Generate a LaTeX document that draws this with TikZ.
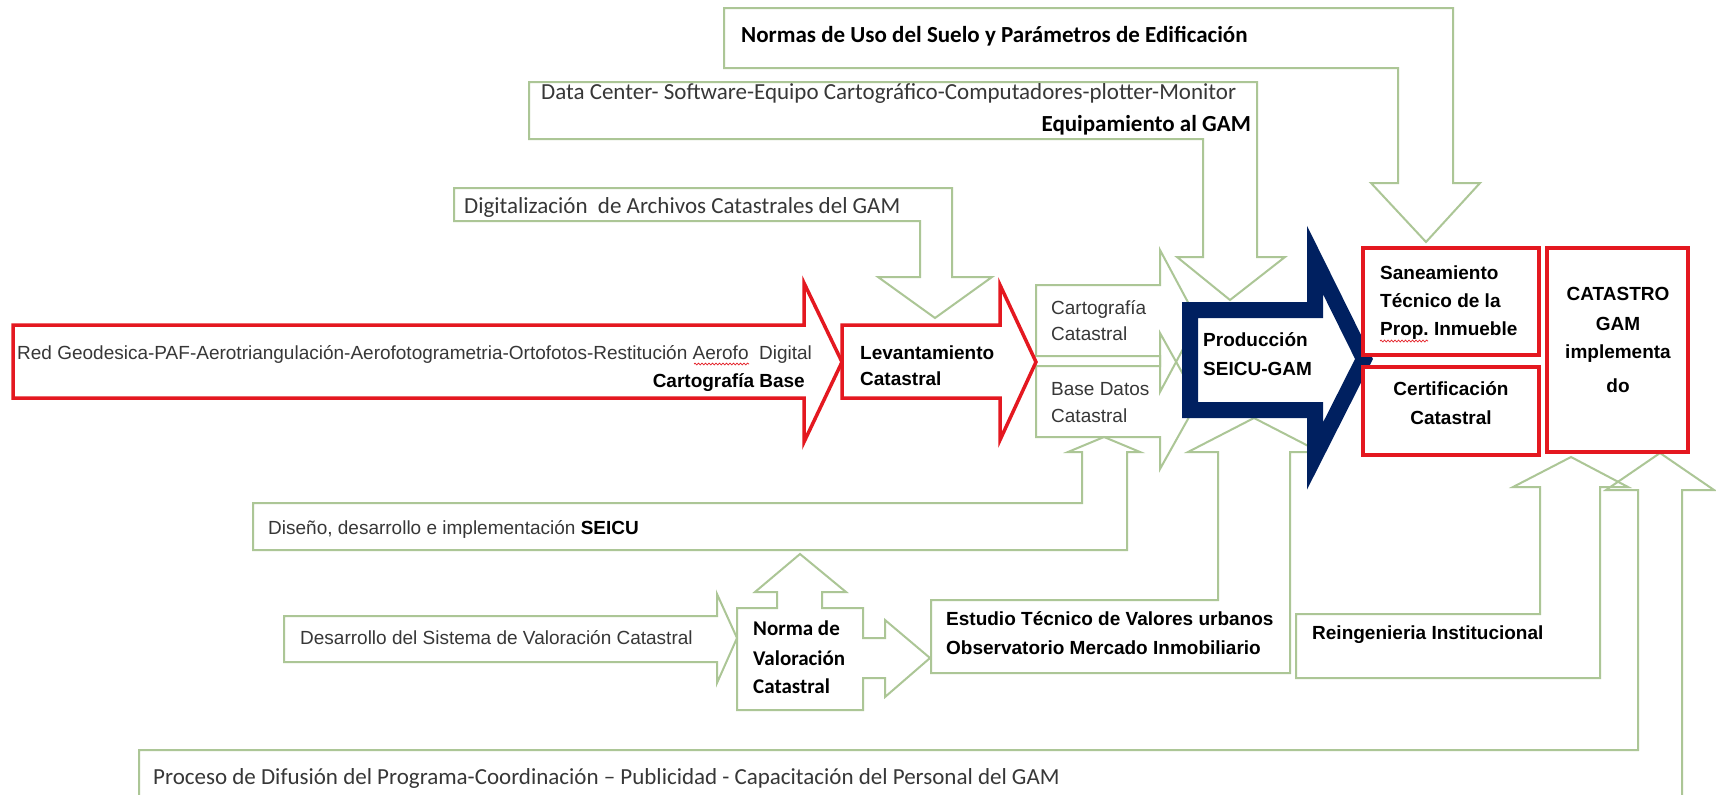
\documentclass[tikz,border=0pt]{standalone}
\usepackage{fontspec}
\usetikzlibrary{decorations.pathmorphing}
\setmainfont{Liberation Sans}
\newfontfamily\calibri{Carlito}
\definecolor{linegreen}{RGB}{172,198,150}
\definecolor{redline}{RGB}{228,24,32}
\definecolor{navy}{RGB}{0,32,96}
\definecolor{txtgrey}{RGB}{55,55,55}
\begin{document}
\begin{tikzpicture}[x=1pt,y=-1pt,
    garrow/.style={draw=linegreen,line width=2pt},
    rarrow/.style={draw=redline,fill=white,line width=3.5pt},
    rbox/.style={draw=redline,fill=white,line width=4.5pt},
    wave/.style={draw=redline,line width=0.7pt,decorate,decoration={snake,amplitude=0.9pt,segment length=3.5pt}},
    ar/.style={inner sep=0pt,font=\fontsize{19}{22}\selectfont,text=txtgrey},
    arb/.style={inner sep=0pt,font=\fontsize{19}{22}\selectfont\bfseries},
    cal/.style={inner sep=0pt,font=\calibri\fontsize{23}{26}\selectfont,text=txtgrey},
    calb/.style={inner sep=0pt,font=\calibri\fontsize{23}{26}\selectfont\bfseries}]
\useasboundingbox (0,0) rectangle (1716,795);
\fill[white] (0,0) rectangle (1716,795);
\clip (0,0) rectangle (1716,795);

% green block arrows
\draw[garrow] (724,8) -- (1453,8) -- (1453,183) -- (1480,183) -- (1426,242) -- (1371,183)
      -- (1398,183) -- (1398,68) -- (724,68) -- cycle;
\draw[garrow] (529,82) -- (1257,82) -- (1257,257) -- (1285,257) -- (1230,300) -- (1177,257)
      -- (1203,257) -- (1203,139) -- (529,139) -- cycle;
\draw[garrow] (454,188) -- (952,188) -- (952,277) -- (992,277) -- (935,318) -- (878,277)
      -- (920,277) -- (920,221) -- (454,221) -- cycle;
\draw[garrow] (1036,285) -- (1160,285) -- (1160,250) -- (1198,321) -- (1160,392)
      -- (1160,356) -- (1036,356) -- cycle;
\draw[garrow] (1036,366) -- (1160,366) -- (1160,333) -- (1198,401) -- (1160,469)
      -- (1160,437) -- (1036,437) -- cycle;
\draw[garrow] (253,503) -- (1082,503) -- (1082,452) -- (1068,452) -- (1104,437) -- (1140,452)
      -- (1127,452) -- (1127,550) -- (253,550) -- cycle;
\draw[garrow] (931,600) -- (1218,600) -- (1218,452) -- (1188,452) -- (1254,418) -- (1320,452)
      -- (1290,452) -- (1290,673) -- (931,673) -- cycle;
\draw[garrow] (1296,614) -- (1540,614) -- (1540,487) -- (1513,487) -- (1571,457) -- (1628,487)
      -- (1600,487) -- (1600,678) -- (1296,678) -- cycle;
\draw[garrow] (139,750) -- (1638,750) -- (1638,490) -- (1606,490) -- (1660,453) -- (1714,490)
      -- (1682,490) -- (1682,830) -- (139,830) -- cycle;
\draw[garrow] (284,616) -- (717,616) -- (717,594) -- (737,638) -- (717,683) -- (717,662)
      -- (284,662) -- cycle;
\draw[garrow] (737,608) -- (777,608) -- (777,592) -- (755,592) -- (800,554) -- (846,592)
      -- (822,592) -- (822,608) -- (863,608) -- (863,638) -- (885,638) -- (885,620)
      -- (930,658) -- (885,697) -- (885,678) -- (863,678) -- (863,710) -- (737,710) -- cycle;

% red arrows and boxes
\draw[rarrow] (13,325) -- (804,325) -- (804,283) -- (842,362) -- (804,442) -- (804,398)
      -- (13,398) -- cycle;
\draw[rarrow] (842,325) -- (1000,325) -- (1000,285) -- (1036,362) -- (1000,440)
      -- (1000,398) -- (842,398) -- cycle;
\draw[draw=navy,fill=white,line width=16pt] (1190,310) -- (1315,310) -- (1315,260)
      -- (1364,359) -- (1315,456) -- (1315,410) -- (1190,410) -- cycle;
\draw[rbox] (1363,248) rectangle (1539,355);
\draw[rbox] (1363,367) rectangle (1539,455);
\draw[rbox] (1547,248) rectangle (1688,452);

% spelling marks
\draw[wave] (694,364) -- (749,364);
\draw[wave] (1380,341) -- (1428,341);

% texts
\node[calb,anchor=base west] (normas) at (741,42) {Normas de Uso del Suelo y Parámetros de Edificación};
\node[cal,anchor=base west] (datacenter) at (541,99) {Data Center- Software-Equipo Cartográfico-Computadores-plotter-Monitor};
\node[calb,anchor=base east] (equipo) at (1251,131) {Equipamiento al GAM};
\node[cal,anchor=base west] (digital) at (464,213) {Digitalización\ \ de Archivos Catastrales del GAM};
\node[ar,anchor=base west] (redgeo) at (17,359) {Red Geodesica-PAF-Aerotriangulación-Aerofotogrametria-Ortofotos-Restitución Aerofo\ \ Digital};
\node[arb,anchor=base east] (cartbase) at (805,387) {Cartografía Base};
\node[arb,anchor=base west] (lev1) at (860,359) {Levantamiento};
\node[arb,anchor=base west] (lev2) at (860,385) {Catastral};
\node[ar,anchor=base west] (cart1) at (1051,314) {Cartografía};
\node[ar,anchor=base west] (cart2) at (1051,340) {Catastral};
\node[ar,anchor=base west] (base1) at (1051,395) {Base Datos};
\node[ar,anchor=base west] (base2) at (1051,422) {Catastral};
\node[arb,anchor=base west] (prod1) at (1203,346) {Producción};
\node[arb,anchor=base west] (prod2) at (1203,375) {SEICU-GAM};
\node[arb,anchor=base west] (san1) at (1380,279) {Saneamiento};
\node[arb,anchor=base west] (san2) at (1380,307) {Técnico de la};
\node[arb,anchor=base west] (san3) at (1380,335) {Prop.\ Inmueble};
\node[arb,anchor=base] (cert1) at (1451,395) {Certificación};
\node[arb,anchor=base] (cert2) at (1451,424) {Catastral};
\node[arb,anchor=base] (cat1) at (1618,300) {CATASTRO};
\node[arb,anchor=base] (cat2) at (1618,330) {GAM};
\node[arb,anchor=base] (cat3) at (1618,358) {implementa};
\node[arb,anchor=base] (cat4) at (1618,392) {do};
\node[ar,anchor=base west] (diseno) at (268,534) {Diseño, desarrollo e implementación \textbf{\color{black}SEICU}};
\node[ar,anchor=base west] (desarrollo) at (300,644) {Desarrollo del Sistema de Valoración Catastral};
\node[calb,anchor=base west,font=\calibri\fontsize{21}{24}\selectfont\bfseries] (norma1) at (753,635) {Norma de};
\node[calb,anchor=base west,font=\calibri\fontsize{21}{24}\selectfont\bfseries] (norma2) at (753,665) {Valoración};
\node[calb,anchor=base west,font=\calibri\fontsize{21}{24}\selectfont\bfseries] (norma3) at (753,693) {Catastral};
\node[arb,anchor=base west] (estudio1) at (946,625) {Estudio Técnico de Valores urbanos};
\node[arb,anchor=base west] (estudio2) at (946,654) {Observatorio Mercado Inmobiliario};
\node[arb,anchor=base west] (reing) at (1312,639) {Reingenieria Institucional};
\node[cal,anchor=base west] (proceso) at (153,784) {Proceso de Difusión del Programa-Coordinación – Publicidad - Capacitación del Personal del GAM};
\end{tikzpicture}
\end{document}
